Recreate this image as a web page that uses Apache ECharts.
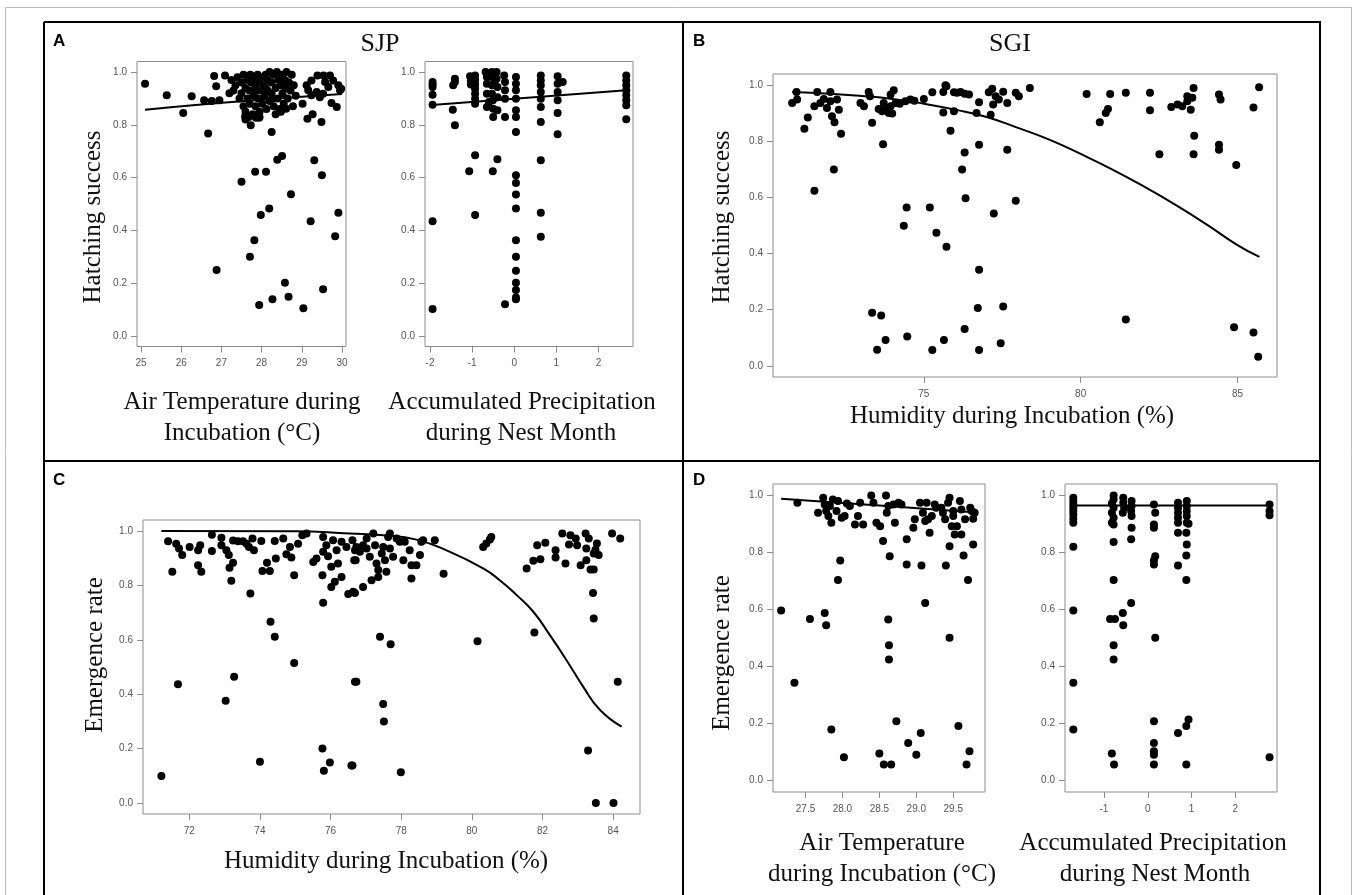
<!DOCTYPE html>
<html><head><meta charset="utf-8">
<script src="https://cdn.jsdelivr.net/npm/echarts@6/dist/echarts.min.js"></script>
<style>html,body{margin:0;padding:0;background:#fff}#c{width:1357px;height:895px}</style>
</head><body><div id="c"></div><script>
// ---------- tick labels ----------
const yTicks = [0, 0.2, 0.4, 0.6, 0.8, 1.0];
const aLeftXTicks = [25, 26, 27, 28, 29, 30];
const aRightXTicks = [-2, -1, 0, 1, 2];
const bXTicks = [75, 80, 85];
const cXTicks = [72, 74, 76, 78, 80, 82, 84];
const dLeftXTicks = [27.5, 28.0, 28.5, 29.0, 29.5];
const dRightXTicks = [-1, 0, 1, 2];

// ---------- A (SJP) hatching success vs air temperature ----------
const aLeftPts = [
[25.10,0.956],[25.64,0.912],[26.05,0.845],[26.26,0.908],[26.67,0.767],[26.88,0.250],[26.57,0.893],[26.76,0.890],[26.95,0.893],[26.87,0.946],[26.82,0.985],[27.09,0.987],[27.2,0.92],
[27.50,0.584],[27.59,0.832],[27.73,0.798],[27.82,0.363],[27.71,0.300],[27.84,0.622],[27.98,0.458],[28.11,0.622],[27.94,0.117],[27.86,0.827],[27.94,0.827],[28.19,0.483],[28.25,0.773],[28.27,0.139],[28.39,0.668],[28.51,0.682],[28.58,0.202],[28.67,0.149],[28.73,0.537],[28.61,0.861],[29.02,0.880],[29.04,0.105],[29.14,0.823],[29.27,0.840],[29.22,0.435],[29.31,0.666],[29.49,0.811],[29.50,0.609],[29.53,0.177],[29.83,0.378],[29.91,0.467],[29.87,0.868],[29.74,0.883],[29.53,0.918],
[29.12,0.950],[29.24,0.968],[29.39,0.987],[29.54,0.987],[29.70,0.987],[29.78,0.968],[29.91,0.950],[29.95,0.931],[29.66,0.943],[29.37,0.924],[29.24,0.912],[29.45,0.905],[29.98,0.937],[29.16,0.931],[29.58,0.962],
[27.25,0.97],[27.3,0.93],[27.35,0.95],[27.4,0.98],[27.45,0.9],[27.5,0.96],[27.5,0.92],[27.55,0.87],[27.55,0.99],[27.6,0.94],[27.6,0.85],[27.65,0.97],[27.65,0.9],[27.7,0.93],[27.7,0.88],[27.72,0.99],[27.75,0.96],[27.78,0.84],[27.8,0.91],[27.8,0.98],[27.85,0.95],[27.85,0.87],[27.88,0.93],[27.9,0.99],[27.92,0.9],[27.95,0.96],[27.95,0.85],[28.0,0.93],[28.0,0.98],[28.02,0.88],[28.05,0.95],[28.08,0.91],[28.1,0.99],[28.12,0.86],[28.15,0.97],[28.15,0.93],[28.2,1.0],[28.2,0.89],[28.25,0.96],[28.25,0.92],[28.3,0.99],[28.3,0.87],[28.35,0.94],[28.38,1.0],[28.4,0.9],[28.42,0.97],[28.45,0.86],[28.48,0.95],[28.5,0.99],[28.52,0.92],[28.55,0.88],[28.58,0.97],[28.6,0.94],[28.62,1.0],[28.65,0.9],[28.68,0.96],[28.72,0.93],[28.75,0.99],[28.78,0.87],[28.8,0.95],[28.85,0.91],[27.6,0.82],[27.68,0.83],[27.95,0.83],[28.35,0.84],[28.48,0.85],[28.1,0.94],[27.82,0.97],[28.28,0.9]
];
const aLeftFit = [[25.1,0.857],[26.5,0.877],[28.0,0.895],[29.0,0.906],[30.0,0.917]];

// ---------- A (SJP) hatching success vs precipitation ----------
const aRightPts = [
[-1.94,0.962],[-1.94,0.953],[-1.94,0.943],[-1.94,0.914],[-1.94,0.876],[-1.94,0.435],[-1.94,0.102],
[-1.41,0.975],[-1.41,0.962],[-1.45,0.950],[-1.46,0.857],[-1.41,0.798],
[-1.05,0.984],[-1.03,0.968],[-1.03,0.953],[-0.93,0.987],[-0.93,0.971],[-0.93,0.953],[-0.93,0.937],[-0.93,0.918],[-0.93,0.899],[-0.93,0.880],[-1.07,0.624],[-0.93,0.685],[-0.93,0.458],
[-0.68,1.0],[-0.65,0.981],[-0.65,0.956],[-0.65,0.918],[-0.65,0.868],[-0.53,1.0],[-0.53,0.981],[-0.53,0.950],[-0.53,0.918],[-0.51,0.893],[-0.50,0.861],[-0.50,0.830],[-0.42,1.0],[-0.42,0.975],[-0.40,0.943],[-0.40,0.905],[-0.40,0.855],[-0.51,0.624],[-0.40,0.670],[-0.60,0.887],[-0.46,0.968],
[-0.24,0.987],[-0.22,0.962],[-0.22,0.931],[-0.22,0.899],[-0.22,0.830],[-0.22,0.120],
[0.04,0.981],[0.04,0.956],[0.04,0.931],[0.04,0.899],[0.04,0.855],[0.04,0.830],[0.04,0.773],[0.04,0.609],[0.04,0.580],[0.04,0.536],[0.04,0.483],[0.04,0.363],[0.04,0.300],[0.04,0.247],[0.04,0.202],[0.04,0.174],[0.04,0.146],[0.04,0.139],
[0.63,0.987],[0.63,0.968],[0.63,0.950],[0.63,0.924],[0.63,0.899],[0.63,0.868],[0.63,0.811],[0.63,0.666],[0.63,0.467],[0.63,0.376],
[1.03,0.984],[1.03,0.956],[1.03,0.924],[1.03,0.893],[1.03,0.845],[1.03,0.764],[1.15,0.962],
[2.66,0.987],[2.66,0.968],[2.66,0.950],[2.66,0.931],[2.66,0.912],[2.66,0.893],[2.66,0.874],[2.66,0.821]
];
const aRightFit = [[-1.88,0.876],[0,0.899],[2.66,0.931]];

// ---------- B (SGI) hatching success vs humidity ----------
const bPts = [
[70.80,0.937],[70.96,0.949],[70.94,0.976],[71.19,0.845],[71.30,0.885],[71.51,0.624],[71.60,0.976],[71.51,0.925],
[71.70,0.937],[71.81,0.951],[71.91,0.919],[72.02,0.976],[72.02,0.943],[72.07,0.889],[72.15,0.868],[72.23,0.949],[72.29,0.913],[72.36,0.827],[72.13,0.700],
[72.98,0.937],[73.09,0.925],[73.24,0.976],[73.28,0.961],[73.35,0.866],[73.35,0.189],[73.64,0.179],[73.51,0.057],[73.70,0.790],[73.78,0.092],[73.56,0.915],[73.67,0.907],[73.78,0.915],[73.72,0.937],[73.88,0.901],[73.94,0.967],[73.94,0.925],[74.04,0.982],[73.99,0.899],[74.10,0.937],[74.23,0.934],[74.36,0.499],[74.45,0.564],[74.47,0.104],[74.41,0.943],[74.57,0.949],[74.70,0.945],
[75.00,0.951],[75.19,0.564],[75.27,0.975],[75.27,0.056],[75.40,0.474],[75.62,0.976],[75.69,1.0],[75.72,0.996],[75.64,0.092],[75.62,0.903],[75.72,0.424],[75.85,0.838],[75.96,0.907],[75.96,0.975],[76.06,0.973],[76.17,0.976],[76.30,0.970],[76.30,0.760],[76.22,0.700],[76.33,0.597],[76.30,0.131],[76.44,0.967],
[76.68,0.901],[76.76,0.939],[76.76,0.788],[76.76,0.342],[76.72,0.206],[76.76,0.056],[77.13,0.895],[77.07,0.975],[77.18,0.987],[77.21,0.931],[77.23,0.543],[77.29,0.961],[77.39,0.949],[77.45,0.080],[77.53,0.211],[77.53,0.977],[77.66,0.937],[77.66,0.770],[77.93,0.973],[77.93,0.588],[78.03,0.961],
[78.38,0.990],[80.19,0.969],[80.94,0.969],[80.87,0.915],[80.80,0.901],[80.61,0.868],[81.44,0.973],[81.44,0.165],[82.21,0.973],[82.21,0.911],[82.51,0.754],[82.89,0.922],[83.09,0.931],[83.24,0.925],[83.40,0.943],[83.51,0.913],[83.56,0.955],[83.60,0.990],[83.62,0.820],[83.60,0.754],[83.40,0.961],
[84.41,0.967],[84.46,0.949],[84.41,0.788],[84.41,0.770],[84.96,0.716],[84.89,0.137],[85.51,0.921],[85.51,0.119],[85.69,0.993],[85.66,0.032]
];
const bFit = [[70.8,0.976],[72,0.970],[73,0.962],[74,0.951],[75,0.934],[76,0.913],[77,0.887],[78,0.848],[79,0.806],[80,0.755],[81,0.700],[82,0.640],[83,0.575],[84,0.505],[85,0.430],[85.7,0.388]];

// ---------- C (SJP) emergence rate vs humidity ----------
const cPts = [
[71.21,0.100],[71.40,0.962],[71.52,0.850],[71.68,0.437],[71.63,0.953],[71.71,0.935],[71.80,0.911],[72.01,0.941],[72.25,0.929],[72.25,0.874],[72.34,0.850],[72.31,0.947],
[72.64,0.986],[72.64,0.926],[72.91,0.975],[72.91,0.947],[73.03,0.376],[73.05,0.929],[73.12,0.911],[73.19,0.817],[73.14,0.865],[73.24,0.883],[73.27,0.464],[73.24,0.965],[73.38,0.962],[73.52,0.962],[73.62,0.953],[73.69,0.941],[73.73,0.770],[73.79,0.972],[73.83,0.929],
[74.00,0.152],[74.04,0.963],[74.07,0.853],[74.20,0.883],[74.28,0.853],[74.30,0.666],[74.42,0.611],[74.45,0.899],[74.42,0.963],[74.66,0.972],[74.75,0.914],[74.85,0.941],[74.89,0.902],[74.97,0.837],[74.97,0.515],
[75.08,0.953],[75.20,0.984],[75.32,0.990],[75.51,0.886],[75.60,0.899],[75.77,0.837],[75.79,0.736],[75.77,0.201],[75.81,0.119],[75.98,0.149],[75.79,0.978],[75.79,0.923],[75.88,0.947],[75.93,0.907],[76.02,0.794],[76.02,0.868],[76.07,0.966],[76.12,0.813],[76.17,0.929],[76.21,0.880],[76.31,0.960],[76.31,0.831],[76.45,0.941],[76.50,0.768],[76.59,0.138],[76.62,0.966],[76.69,0.446],[76.69,0.929],[76.71,0.892],[76.64,0.776],
[76.73,0.941],[76.83,0.923],[76.67,0.892],[76.92,0.947],[77.02,0.972],[77.02,0.935],[77.11,0.905],[77.21,0.990],[77.26,0.947],[77.30,0.880],[77.35,0.856],[77.45,0.917],[77.49,0.941],[77.54,0.892],[77.58,0.850],[77.63,0.978],[77.68,0.990],[77.68,0.935],[77.77,0.905],[77.87,0.972],[77.96,0.960],[78.06,0.892],[78.10,0.960],[78.24,0.929],[78.29,0.874],[78.29,0.825],[78.53,0.911],[78.57,0.960],[78.62,0.966],[78.95,0.966],[79.20,0.843],[78.43,0.874],[77.16,0.819],[77.35,0.831],[76.92,0.794],[76.69,0.772],
[77.40,0.611],[77.70,0.584],[76.73,0.446],[77.49,0.364],[77.51,0.300],[76.62,0.138],[77.99,0.113],[80.16,0.595],[81.77,0.627],[84.13,0.446],[83.29,0.193],[83.51,0.0],[84.01,0.0],
[80.32,0.941],[80.41,0.954],[80.51,0.968],[80.55,0.978],[81.55,0.862],[81.74,0.890],[81.85,0.947],[81.94,0.896],[82.08,0.956],[82.37,0.929],[82.37,0.902],[82.56,0.990],[82.65,0.880],[82.75,0.950],[82.79,0.984],[82.94,0.972],[82.98,0.947],[83.08,0.874],[83.22,0.990],[83.24,0.935],[83.24,0.892],[83.31,0.972],[83.36,0.858],[83.45,0.858],[83.45,0.917],[83.50,0.931],[83.54,0.954],[83.59,0.911],[83.97,0.990],[84.20,0.972],[83.43,0.772],[83.45,0.678]
];
const cFit = [[71.21,1.0],[75.0,0.999],[76.54,0.990],[77.49,0.984],[78.43,0.968],[79.38,0.923],[80.32,0.862],[80.79,0.819],[81.27,0.764],[81.74,0.703],[82.21,0.617],[82.68,0.525],[83.15,0.428],[83.63,0.342],[84.24,0.281]];

// ---------- D (SGI) emergence rate vs air temperature ----------
const dLeftPts = [
[27.17,0.596],[27.39,0.974],[27.35,0.343],[27.56,0.567],[27.67,0.939],[27.76,0.588],[27.78,0.545],[27.85,0.179],[27.94,0.703],[27.97,0.772],[28.02,0.082],
[27.74,0.992],[27.76,0.968],[27.78,0.945],[27.81,0.928],[27.83,0.963],[27.85,0.904],[27.87,0.986],[27.92,0.945],[27.94,0.980],[27.99,0.922],[28.03,0.928],[28.06,0.972],[28.10,0.963],
[28.17,0.898],[28.21,0.928],[28.24,0.974],[28.28,0.898],[28.39,1.0],[28.42,0.974],[28.46,0.904],[28.51,0.892],[28.55,0.840],[28.59,1.0],[28.60,0.939],[28.62,0.963],[28.64,0.787],[28.62,0.565],[28.63,0.475],[28.63,0.425],[28.56,0.056],[28.66,0.056],[28.73,0.208],[28.50,0.095],
[28.69,0.968],[28.71,0.904],[28.76,0.974],[28.80,0.968],[28.87,0.846],[28.87,0.758],[28.89,0.132],[28.96,0.887],[28.98,0.916],[29.00,0.091],[29.05,0.974],[29.06,0.167],[29.07,0.754],[29.12,0.623],[29.09,0.939],[29.12,0.910],[29.14,0.974],[29.16,0.916],[29.18,0.869],[29.21,0.928],
[29.25,0.968],[29.27,0.957],[29.34,0.957],[29.36,0.939],[29.39,0.916],[29.40,0.754],[29.43,0.974],[29.45,0.992],[29.45,0.501],[29.45,0.822],[29.48,0.892],[29.50,0.945],[29.50,0.928],[29.52,0.863],[29.55,0.892],[29.57,0.191],[29.59,0.980],[29.61,0.951],[29.61,0.863],[29.64,0.789],[29.66,0.916],[29.68,0.056],[29.70,0.703],[29.72,0.103],[29.73,0.957],[29.75,0.945],[29.77,0.828],[29.79,0.939],[29.77,0.918]
];
const dLeftFit = [[27.17,0.988],[28.5,0.965],[29.82,0.940]];

// ---------- D (SGI) emergence rate vs precipitation ----------
const dRightPts = [
[-1.70,0.992],[-1.70,0.980],[-1.70,0.968],[-1.70,0.957],[-1.70,0.945],[-1.70,0.933],[-1.70,0.918],[-1.70,0.904],[-1.70,0.820],[-1.70,0.596],[-1.70,0.343],[-1.70,0.179],
[-0.78,1.0],[-0.78,0.986],[-0.82,0.972],[-0.78,0.957],[-0.82,0.939],[-0.78,0.922],[-0.82,0.904],[-0.78,0.898],[-0.78,0.837],[-0.78,0.703],[-0.86,0.567],[-0.75,0.567],[-0.78,0.475],[-0.78,0.425],[-0.82,0.095],[-0.77,0.056],
[-0.56,0.992],[-0.56,0.974],[-0.54,0.957],[-0.57,0.939],[-0.56,0.545],[-0.57,0.588],
[-0.37,0.980],[-0.37,0.963],[-0.38,0.945],[-0.37,0.928],[-0.37,0.887],[-0.38,0.846],[-0.38,0.623],
[0.14,0.968],[0.17,0.939],[0.14,0.898],[0.14,0.887],[0.17,0.787],[0.14,0.772],[0.14,0.758],[0.17,0.501],[0.14,0.208],[0.14,0.132],[0.14,0.103],[0.14,0.091],[0.14,0.056],
[0.69,0.974],[0.69,0.957],[0.69,0.939],[0.69,0.922],[0.69,0.904],[0.69,0.869],[0.69,0.754],[0.69,0.167],
[0.89,0.980],[0.89,0.963],[0.89,0.945],[0.89,0.928],[0.89,0.904],[0.93,0.901],[0.88,0.869],[0.89,0.828],[0.88,0.789],[0.88,0.703],[0.88,0.191],[0.93,0.214],[0.88,0.056],
[2.78,0.968],[2.78,0.945],[2.78,0.930],[2.78,0.082]
];
const dRightFit = [[-1.70,0.965],[2.78,0.965]];

// ---------- build ----------
const serif = "'Liberation Serif','Times New Roman',serif";
const sans = "'Liberation Sans',Arial,sans-serif";
const boxCol = '#8c8c8c';

const panels = [
  {g:{left:137, top:61.5, width:209, height:285}, xmin:24.9, xmax:30.1, xt:aLeftXTicks, dec:0, pts:aLeftPts, fit:aLeftFit},
  {g:{left:425, top:61.5, width:208, height:285}, xmin:-2.12, xmax:2.82, xt:aRightXTicks, dec:0, pts:aRightPts, fit:aRightFit},
  {g:{left:773, top:74, width:504, height:303}, xmin:70.19, xmax:86.26, xt:bXTicks, dec:0, pts:bPts, fit:bFit},
  {g:{left:143, top:520, width:497, height:294}, xmin:70.69, xmax:84.76, xt:cXTicks, dec:0, pts:cPts, fit:cFit},
  {g:{left:773, top:484, width:212, height:308}, xmin:27.06, xmax:29.93, xt:dLeftXTicks, dec:1, pts:dLeftPts, fit:dLeftFit},
  {g:{left:1065, top:484, width:212, height:308}, xmin:-1.89, xmax:2.95, xt:dRightXTicks, dec:0, pts:dRightPts, fit:dRightFit}
];

const grid = [], xAxis = [], yAxis = [], series = [];
panels.forEach((p, i) => {
  grid.push(Object.assign({show:true, borderColor:boxCol, borderWidth:1, backgroundColor:'rgba(0,0,0,0)'}, p.g));
  xAxis.push({type:'value', gridIndex:i, min:p.xmin, max:p.xmax,
    axisLine:{show:false, onZero:false}, splitLine:{show:false},
    axisTick:{show:true, length:6, lineStyle:{color:boxCol}, customValues:p.xt},
    axisLabel:{customValues:p.xt, formatter:v => v.toFixed(p.dec), color:'#555', fontSize:10, fontFamily:sans, margin:12}});
  yAxis.push({type:'value', gridIndex:i, min:-0.04, max:1.04,
    axisLine:{show:false, onZero:false}, splitLine:{show:false},
    axisTick:{show:true, length:6, lineStyle:{color:boxCol}, customValues:yTicks},
    axisLabel:{customValues:yTicks, formatter:v => v.toFixed(1), color:'#555', fontSize:10, fontFamily:sans, margin:10}});
  series.push({type:'scatter', xAxisIndex:i, yAxisIndex:i, data:p.pts, symbolSize:8, itemStyle:{color:'#000', opacity:1}, silent:true, z:2});
  series.push({type:'line', xAxisIndex:i, yAxisIndex:i, data:p.fit, smooth:true, showSymbol:false, lineStyle:{color:'#000', width:2}, silent:true, z:3});
});

function line(x1,y1,x2,y2,w,c){return {type:'line', shape:{x1,y1,x2,y2}, style:{stroke:c||'#000', lineWidth:w||2}, silent:true, z:10};}
function txt(t,x,y,o){return Object.assign({type:'text', x, y, style:Object.assign({text:t, fill:'#111', font:'25px '+serif, textAlign:'center', textVerticalAlign:'middle'}, o||{}), silent:true, z:10});}
function vtxt(t,x,y){return {type:'text', x, y, rotation:Math.PI/2, style:{text:t, fill:'#111', font:'25px '+serif, textAlign:'center', textVerticalAlign:'middle'}, silent:true, z:10};}
const lbl = {font:'bold 17px '+sans, textAlign:'left', fill:'#000'};

const graphic = [
  {type:'rect', shape:{x:5.5, y:7.5, width:1346, height:900}, style:{fill:'none', stroke:'#bbb', lineWidth:1}, silent:true},
  line(44,22,1321,22,2), line(44,22,44,895,2), line(683,22,683,895,2), line(1320,22,1320,895,2), line(44,461,1321,461,2),
  txt('A',53,41,lbl),
  txt('B',693,41,lbl),
  txt('C',53,480,lbl),
  txt('D',693,480,lbl),
  txt('SJP',380,44,{font:'26px '+serif}),
  txt('SGI',1010,44,{font:'26px '+serif}),
  vtxt('Hatching success',93,217),
  vtxt('Hatching success',722,217),
  vtxt('Emergence rate',95,655),
  vtxt('Emergence rate',722,653),
  txt('Air Temperature during',242,402),
  txt('Incubation (°C)',242,433),
  txt('Accumulated Precipitation',522,402),
  txt('during Nest Month',521,433),
  txt('Humidity during Incubation (%)',1012,416),
  txt('Humidity during Incubation (%)',386,861),
  txt('Air Temperature',882,843),
  txt('during Incubation (°C)',882,874),
  txt('Accumulated Precipitation',1153,843),
  txt('during Nest Month',1155,874)
];

const chart = echarts.init(document.getElementById('c'));
chart.setOption({animation:false, backgroundColor:'#fff', grid, xAxis, yAxis, series, graphic});
</script></body></html>
